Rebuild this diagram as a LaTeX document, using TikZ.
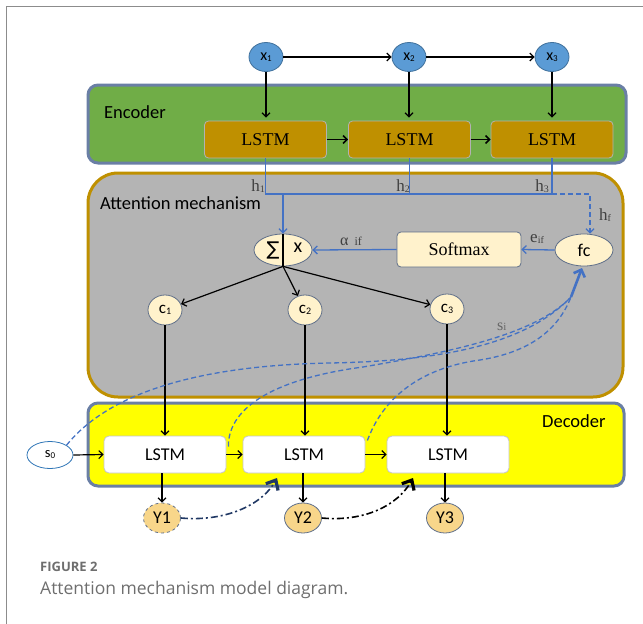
\documentclass[tikz,border=0pt]{standalone}
\usepackage{fontspec}
\setmainfont{Liberation Serif}
\newfontfamily\calfont{Carlito}
\newfontfamily\capfont{Open Sans}
\newfontfamily\djvfont{DejaVu Sans}
\usetikzlibrary{arrows.meta,shapes.geometric,calc}
\newcommand{\fs}[1]{\fontsize{#1}{#1}\selectfont}
\newcommand{\sm}[2]{\raisebox{-1pt}{\fs{#1}#2}}
\definecolor{encgreen}{HTML}{70AD47}
\definecolor{boxborder}{HTML}{6A7FA5}
\definecolor{lstmgold}{HTML}{BF9000}
\definecolor{attgray}{HTML}{B4B4B4}
\definecolor{blueline}{HTML}{4472C4}
\definecolor{cream}{HTML}{FFF2CC}
\definecolor{ellborder}{HTML}{5F6F8A}
\definecolor{xblue}{HTML}{5B9BD5}
\definecolor{xborder}{HTML}{41719C}
\definecolor{ylw}{HTML}{FFFF00}
\definecolor{yfill}{HTML}{F8D68A}
\definecolor{navyc}{HTML}{203864}
\definecolor{capgray}{HTML}{6E6E6E}
\definecolor{framegray}{HTML}{8C8C8C}
\definecolor{lblgray}{HTML}{404040}
\definecolor{sblue}{HTML}{2E75B6}
\tikzset{
 encbox/.style={draw=boxborder, fill=encgreen, line width=3pt, rounded corners=10pt, minimum width=538pt, minimum height=78pt},
 attbox/.style={draw=lstmgold, fill=attgray, line width=3pt, rounded corners=30pt, minimum width=535pt, minimum height=224pt},
 decbox/.style={draw=boxborder, fill=ylw, line width=3pt, rounded corners=10pt, minimum width=536pt, minimum height=83pt},
 elstm/.style={draw=gray!60, fill=lstmgold, rounded corners=4pt, minimum width=122pt, minimum height=37pt, font=\fs{18}, line width=0.8pt},
 dlstm/.style={draw=gray!45, fill=white, rounded corners=5pt, minimum width=122pt, minimum height=37pt, font=\calfont\fs{18}, line width=0.8pt},
 xnode/.style={ellipse, draw=xborder, fill=xblue, minimum width=34pt, minimum height=29pt, inner sep=0pt, font=\calfont\fs{16}, line width=0.8pt},
 cnode/.style={ellipse, draw=ellborder, fill=cream, minimum width=34pt, minimum height=30pt, inner sep=0pt, font=\calfont\fs{17}, line width=0.8pt},
 ynode/.style={ellipse, draw=ellborder, fill=yfill, minimum width=37pt, minimum height=30pt, inner sep=0pt, font=\calfont\fs{18}, line width=0.8pt},
 opnode/.style={ellipse, draw=ellborder, fill=cream, minimum width=58pt, minimum height=32pt, inner sep=0pt, line width=0.8pt},
 lbl/.style={text=lblgray, inner sep=0pt},
 title/.style={inner sep=0pt, font=\calfont\fs{18.5}},
 bline/.style={draw=blueline, line width=1.3pt},
 harrow/.style={draw=blueline, line width=1.3pt, -{Straight Barb[length=4pt,width=8pt]}},
 blk/.style={draw=black, line width=1.2pt, -{Straight Barb[length=4pt,width=8pt]}},
 sdash/.style={draw=blueline, line width=1.3pt, dash pattern=on 5pt off 3pt},
 dashdot/.style={line width=1.6pt, dash pattern=on 7pt off 3pt on 2pt off 3pt, -{Straight Barb[length=8pt,width=14pt,line width=3.2pt]}},
}
\begin{document}
\begin{tikzpicture}[x=1pt,y=-1pt]
\useasboundingbox (0,0) rectangle (643,624);
\draw[framegray, line width=1.5pt] (6.5,624) -- (6.5,6.5) -- (643,6.5);

% containers
\node[encbox] (enc) at (357,124) {};
\node[attbox] (att) at (355.5,285) {};
\node[decbox] (dec) at (356,444.5) {};
\node[title, anchor=base west] (enct) at (104,118) {Encoder};
\node[title, anchor=base west] (attt) at (100,209) {Attention mechanism};
\node[title, anchor=base west] (dect) at (542,427) {Decoder};

% inputs
\node[xnode] (x1) at (266,57) {x\sm{9}{1}};
\node[xnode] (x2) at (409,57) {x\sm{9}{2}};
\node[xnode] (x3) at (552,57) {x\sm{9}{3}};

% encoder lstm
\node[elstm] (e1) at (265.5,139.5) {LSTM};
\node[elstm] (e2) at (409.5,139.5) {LSTM};
\node[elstm] (e3) at (552,139.5) {LSTM};

\draw[blk] (x1.east) -- (x2.west);
\draw[blk] (x2.east) -- (x3.west);
\draw[blk, shorten >=3pt] (x1.south) -- (x1.south |- e1.north);
\draw[blk, shorten >=3pt] (x2.south) -- (x2.south |- e2.north);
\draw[blk, shorten >=3pt] (x3.south) -- (x3.south |- e3.north);
\draw[blk, line width=1.5pt] (e1.east) -- (e2.west);
\draw[blk, line width=1.5pt] (e2.east) -- (e3.west);

% attention
\node[opnode] (sig) at (283,250) {};
\node[inner sep=0pt, font=\djvfont\fs{19}] (sigs) at (273,250.5) {∑};
\node[inner sep=0pt, font=\calfont\fs{20}] (sigx) at (298,248) {x};
\draw[black, line width=1.2pt] (sig.north) -- (sig.south);
\node[draw=ellborder, fill=cream, rounded corners=4pt, minimum width=124pt, minimum height=35pt, font=\fs{18}, line width=0.8pt] (soft) at (459,249.5) {Softmax};
\node[opnode, font=\calfont\fs{18}] (fc) at (584,250) {fc};

\coordinate (hy) at (0,194);
\draw[bline] (e1.south) -- (e1.south |- hy) -- (e3.south |- hy);
\draw[bline] (e2.south) -- (e2.south |- hy);
\draw[bline] (e3.south) -- (e3.south |- hy);
\coordinate (fcin) at ($(fc.north)+(6,0)$);
\draw[sdash, -{Straight Barb[length=4pt,width=8pt]}] (e3.south |- hy) -- (fcin |- hy) -- (fcin);
\draw[harrow] (sig.north |- hy) -- (sig.north);
\draw[harrow] (fc.west) -- (soft.east);
\draw[harrow] (soft.west) -- (sig.east);

\node[lbl, anchor=base east, font=\fs{17}] (h1) at (265,191) {h\sm{10}{1}};
\node[lbl, anchor=base east, font=\fs{17}] (h2) at (410,191) {h\sm{10}{2}};
\node[lbl, anchor=base east, font=\fs{17}] (h3) at (549,191) {h\sm{10}{3}};
\node[lbl, anchor=base west, font=\fs{17}] (hf) at (599,220) {h\sm{10}{f}};
\node[lbl, anchor=base west, font=\fs{17}] (eif) at (530,242) {e\sm{10}{if}};
\node[lbl, anchor=base west] (aif) at (340,245) {\fs{16}α\hspace{6pt}\fs{12}if};

% contexts
\node[cnode] (c1) at (165,310) {c\sm{10}{1}};
\node[cnode] (c2) at (305,310) {c\sm{10}{2}};
\node[cnode] (c3) at (447,309) {c\sm{10}{3}};
\draw[blk] (sig.south) -- (c1);
\draw[blk] (sig.south) -- (c2);
\draw[blk] (sig.south) -- (c3);

% decoder
\node[dlstm] (d1) at (165,454.5) {LSTM};
\node[dlstm] (d2) at (304,454.5) {LSTM};
\node[dlstm] (d3) at (448,454.5) {LSTM};
\node[ellipse, draw=sblue, fill=white, minimum width=46pt, minimum height=27pt, inner sep=0pt, font=\calfont\fs{14.5}, line width=0.8pt] (s0) at (50,455) {s\sm{9}{0}};

\draw[blk] (c1.south) -- (c1.south |- d1.north);
\draw[blk] (c2.south) -- (c2.south |- d2.north);
\draw[blk] (c3.south) -- (c3.south |- d3.north);
\draw[blk] (s0.east) -- (d1.west);
\draw[blk] (d1.east) -- (d2.west);
\draw[blk] (d2.east) -- (d3.west);

\node[ynode, dashed] (y1) at (162,518) {Y1};
\node[ynode] (y2) at (303,518) {Y2};
\node[ynode] (y3) at (445,518) {Y3};
\draw[blk] (d1.south -| y1.north) -- (y1.north);
\draw[blk] (d2.south -| y2.north) -- (y2.north);
\draw[blk] (d3.south -| y3.north) -- (y3.north);

% s_i dashed curves
\coordinate (conv) at (571,297);
\coordinate (fctip) at (582,268);
\coordinate (cs2) at ($(d1.east)+(2,-8)$);
\coordinate (cs3) at ($(d2.east)+(2,-14)$);
\draw[sdash] (s0.north east) .. controls (115,385) and (220,365) .. (330,363) .. controls (440,361) and (525,345) .. (conv);
\draw[sdash] (cs2) .. controls (228,405) and (280,378) .. (363,367) .. controls (450,352) and (535,335) .. (conv);
\draw[sdash] (cs3) .. controls (383,398) and (420,368) .. (480,360) .. controls (530,352) and (558,330) .. (conv);
\draw[blueline, line width=2.6pt, -{Straight Barb[length=6pt,width=12pt]}] (conv) -- (fctip);
\node[lbl, anchor=base west, text=lblgray!80] (si) at (497,330) {\fs{16}s\fs{11}i};

% y feedback
\coordinate (t2) at (277,478);
\coordinate (t3) at (413,478);
\draw[dashdot, navyc] (y1.east) .. controls (225,522) and (262,505) .. (t2);
\draw[dashdot, black] (y2.east) .. controls (365,522) and (398,505) .. (t3);

% caption
\node[anchor=base west, inner sep=0pt, text=capgray, font=\capfont\bfseries\fs{13}] (fig) at (40,571) {FIGURE 2};
\node[anchor=base west, inner sep=0pt, text=capgray, font=\capfont\fs{17.5}] (cap) at (40,594) {Attention mechanism model diagram.};
\end{tikzpicture}
\end{document}
